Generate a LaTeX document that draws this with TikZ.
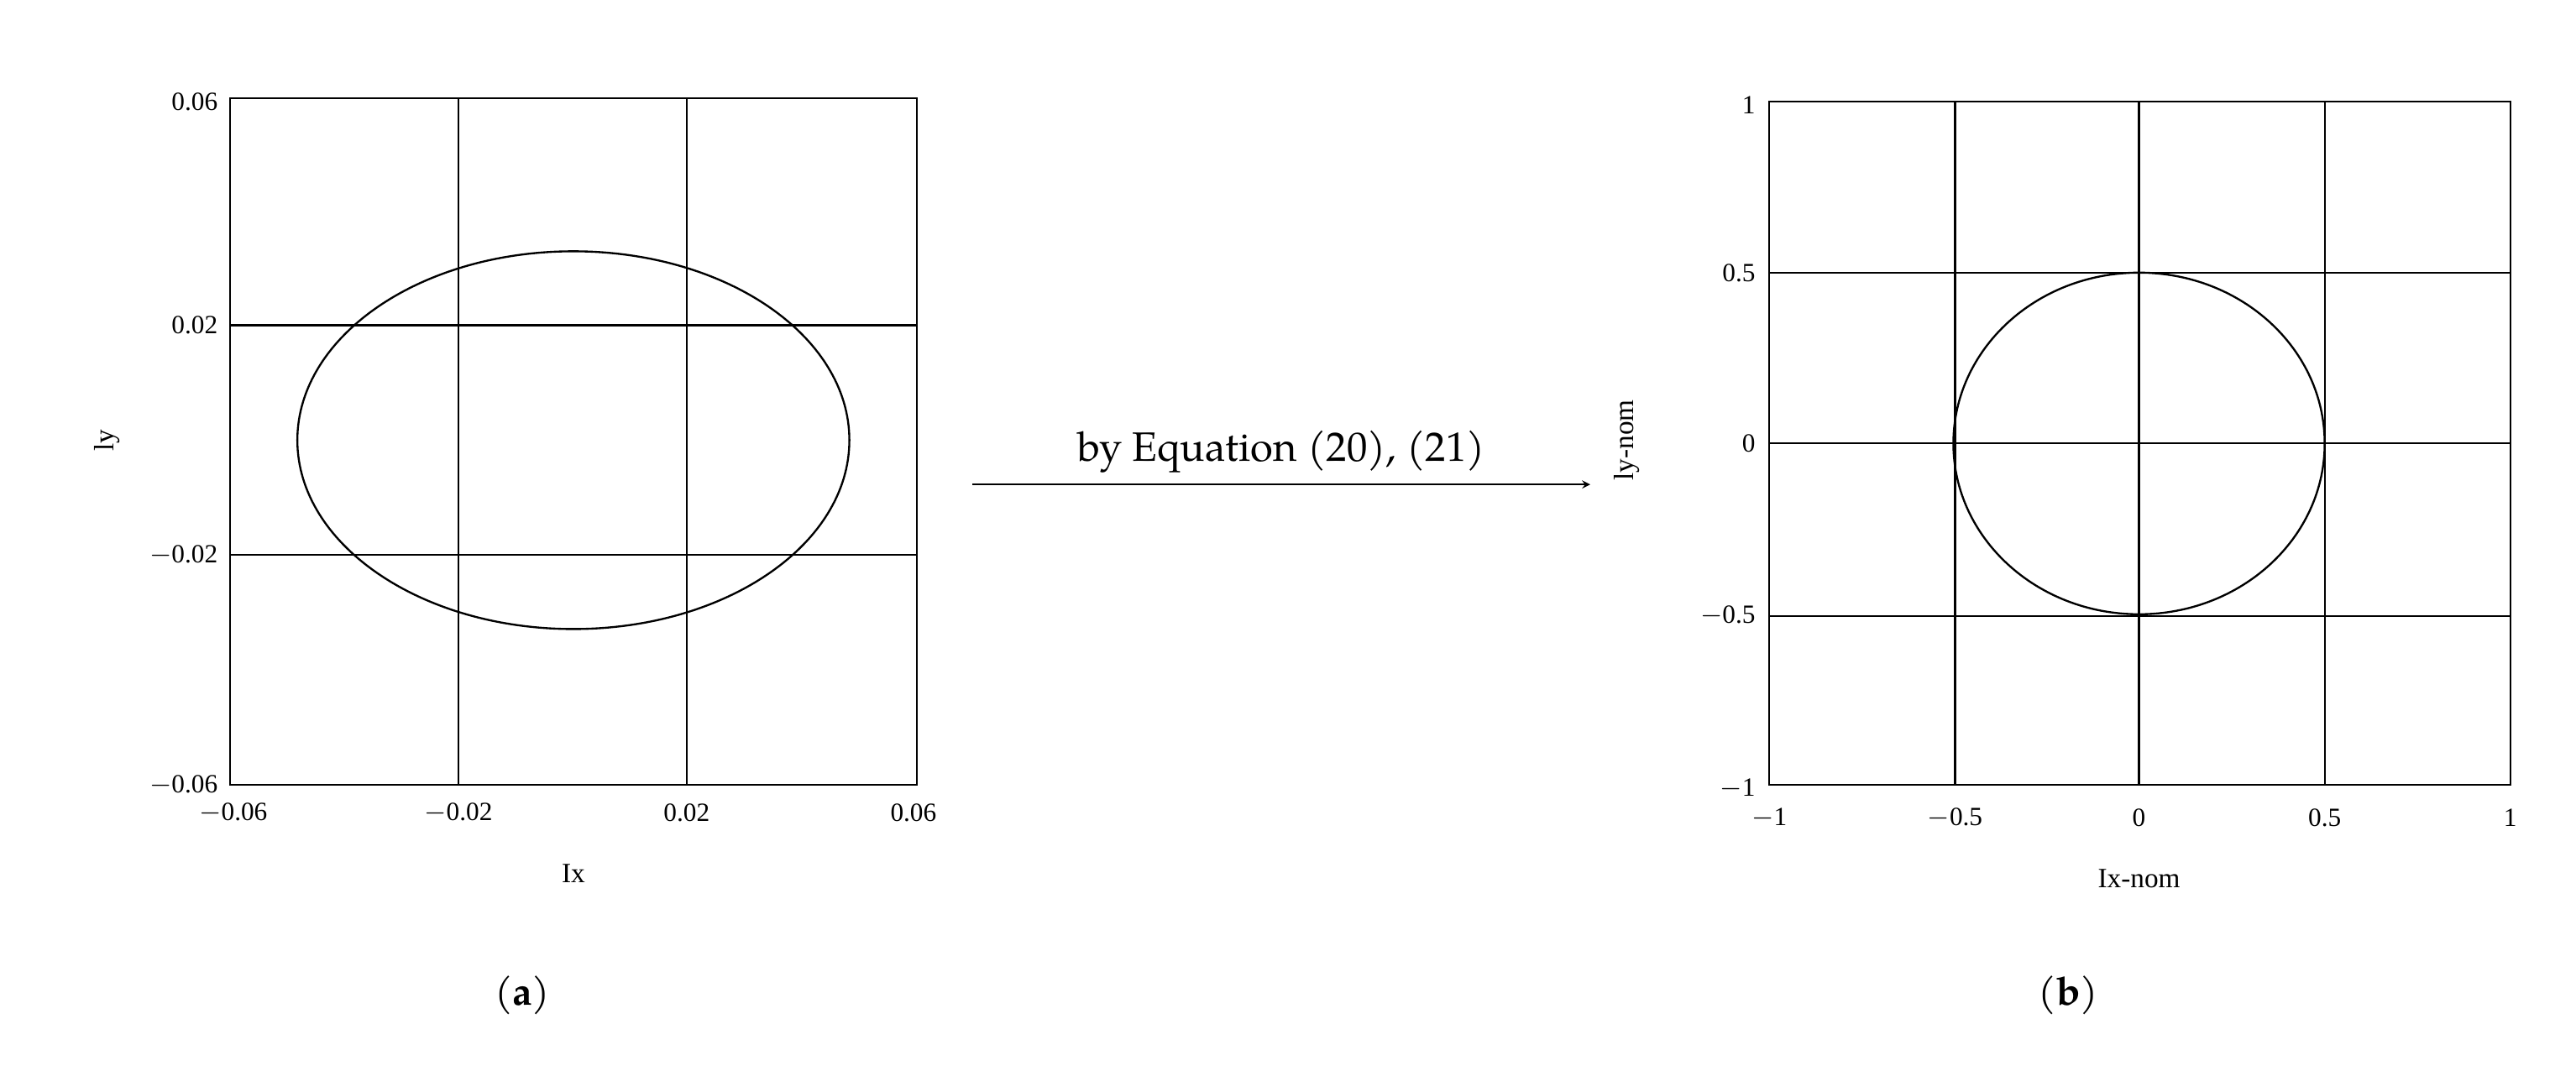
\documentclass[tikz,border=0pt]{standalone}
\usepackage{fontspec}
\setmainfont{Liberation Serif}
\newfontfamily\capfont{TeX Gyre Pagella}
\begin{document}
\begin{tikzpicture}[x=1pt,y=-1pt,
  tick/.style={font=\fontsize{16}{18}\selectfont},
  axl/.style={font=\fontsize{17}{19}\selectfont},
  captxt/.style={font=\capfont\fontsize{24}{28}\selectfont},
  gl/.style={line width=1.1pt},
  curve/.style={line width=1.2pt}]
\useasboundingbox (0,0) rectangle (1568,649);
% left plot
\draw[gl] (140,60) rectangle (558,478);
\draw[gl] (279,60)--(279,478) (418,60)--(418,478) (140,198)--(558,198) (140,338)--(558,338);
\draw[curve] (349,268) ellipse [x radius=168, y radius=115];
\node[tick,anchor=east] (ya1) at (136,62) {0.06};
\node[tick,anchor=east] (ya2) at (136,198) {0.02};
\node[tick,anchor=east] (ya3) at (136,338) {$-$0.02};
\node[tick,anchor=east] (ya4) at (136,478) {$-$0.06};
\node[tick] (xa1) at (142,495) {$-$0.06};
\node[tick] (xa2) at (279,495) {$-$0.02};
\node[tick] (xa3) at (418,495) {0.02};
\node[tick] (xa4) at (556,495) {0.06};
\node[axl] (ixa) at (349,532) {Ix};
\node[axl,rotate=90] (lya) at (65,268) {ly};
\node[captxt] (capa) at (318,606) {(\textbf{a})};
% arrow
\coordinate (as) at (592,295);
\coordinate (ae) at (968,295);
\draw[line width=1.2pt,-stealth] (as)--(ae) node[midway,above=3pt,font=\capfont\fontsize{25}{28}\selectfont] (lbl) {by Equation (20), (21)};
% right plot
\draw[gl] (1077,62) rectangle (1528,478);
\draw[gl] (1190,62)--(1190,478) (1302,62)--(1302,478) (1415,62)--(1415,478)
  (1077,166)--(1528,166) (1077,270)--(1528,270) (1077,375)--(1528,375);
\draw[curve] (1302,270) ellipse [x radius=113, y radius=104];
\node[tick,anchor=east] (yb1) at (1072,64) {1};
\node[tick,anchor=east] (yb2) at (1072,166) {0.5};
\node[tick,anchor=east] (yb3) at (1072,270) {0};
\node[tick,anchor=east] (yb4) at (1072,375) {$-$0.5};
\node[tick,anchor=east] (yb5) at (1072,480) {$-$1};
\node[tick] (xb1) at (1077,498) {$-$1};
\node[tick] (xb2) at (1190,498) {$-$0.5};
\node[tick] (xb3) at (1302,498) {0};
\node[tick] (xb4) at (1415,498) {0.5};
\node[tick] (xb5) at (1528,498) {1};
\node[axl] (ixb) at (1302,535) {Ix-nom};
\node[axl,rotate=90] (lyb) at (990,268) {ly-nom};
\node[captxt] (capb) at (1259,606) {(\textbf{b})};
\end{tikzpicture}
\end{document}
